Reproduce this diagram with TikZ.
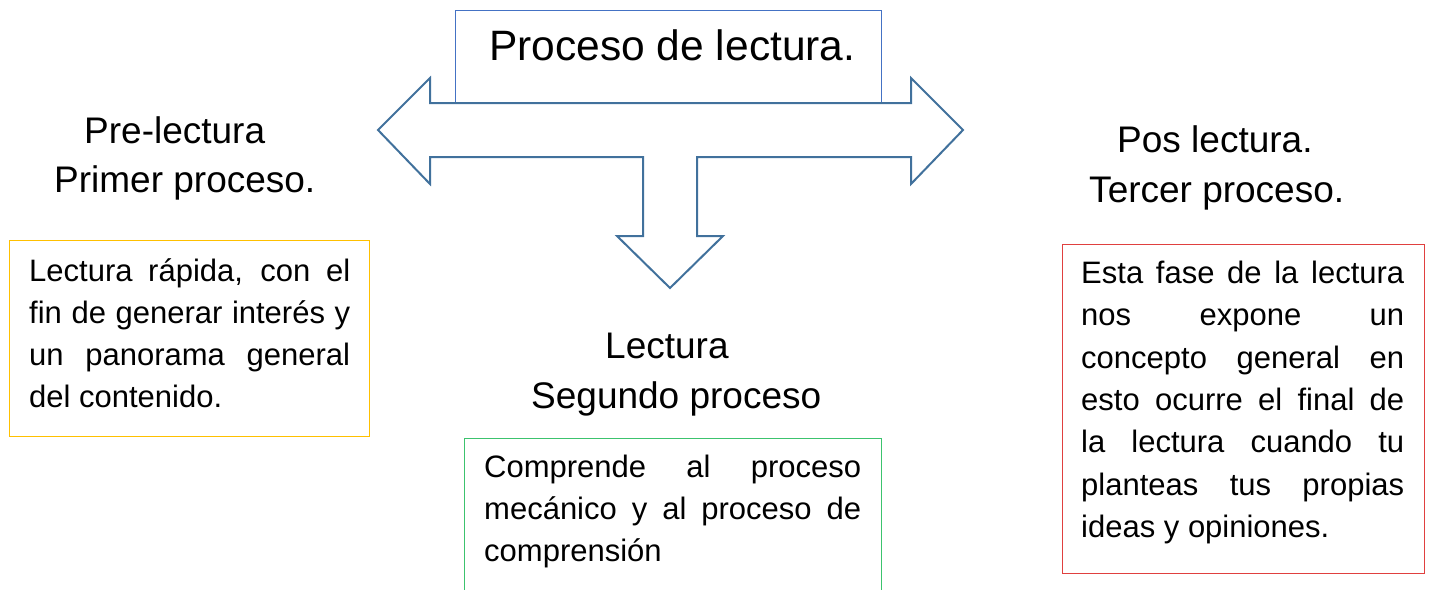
\documentclass[tikz,border=0pt]{standalone}
\usepackage{fontspec}
\setmainfont{Liberation Sans}
\definecolor{arrowblue}{HTML}{41719C}
\definecolor{boxblue}{HTML}{4472C4}
\definecolor{boxyellow}{HTML}{FFC000}
\definecolor{boxgreen}{HTML}{3CC36E}
\definecolor{boxred}{HTML}{E0403F}
\newcommand\mybodysetup{\hyphenpenalty=10000\relax\exhyphenpenalty=10000\relax\hbadness=10000\relax\tolerance=10000\relax}
\tikzset{
  frame/.style={draw, line width=1.3pt, inner sep=0pt, anchor=north west, fill=none},
  heading/.style={anchor=base west, inner sep=0pt, font=\fontsize{37}{44}\selectfont},
  body/.style={anchor=base west, inner sep=0pt, align=justify,
    font={\fontsize{31}{42.3}\selectfont\mybodysetup}},
  arrowline/.style={draw=arrowblue, line width=2pt, line join=miter}
}
\begin{document}
\begin{tikzpicture}[x=1pt,y=-1pt]
\useasboundingbox (0,0) rectangle (1431,589);
% top box
\node[frame, draw=boxblue, minimum width=426pt, minimum height=93pt] (topbox) at (455,10) {};
\node[anchor=base west, inner sep=0pt, font=\fontsize{42.5}{50}\selectfont] (title) at (489,60) {Proceso de lectura.};
% three-way arrow
\draw[arrowline] (378,130) -- (430,78) -- (430,103) -- (911,103) -- (911,78) -- (963,130)
  -- (911,184) -- (911,157) -- (697,157) -- (697,236) -- (723,236) -- (670,288)
  -- (617,236) -- (643,236) -- (643,157) -- (430,157) -- (430,184) -- cycle;
% headings
\node[heading] (pre1) at (84,143) {Pre-lectura};
\node[heading] (pre2) at (54,192) {Primer proceso.};
\node[heading] (pos1) at (1117,152) {Pos lectura.};
\node[heading] (pos2) at (1089,202) {Tercer proceso.};
\node[heading] (lec1) at (605,358) {Lectura};
\node[heading] (lec2) at (531,408) {Segundo proceso};
% boxes
\node[frame, draw=boxyellow, minimum width=360pt, minimum height=196pt] (ybox) at (9,240) {};
\node[frame, draw=boxred, minimum width=362pt, minimum height=329pt] (rbox) at (1062,244) {};
\node[frame, draw=boxgreen, minimum width=417pt, minimum height=170pt] (gbox) at (464,438) {};
% box texts
\node[body, text width=321pt] (ytext) at (29,281) {Lectura rápida, con el\linebreak fin de generar interés y\linebreak un panorama general\linebreak del contenido.};
\node[body, text width=323pt] (rtext) at (1081,283.5) {Esta fase de la lectura\linebreak nos expone un\linebreak concepto general en\linebreak esto ocurre el final de\linebreak la lectura cuando tu\linebreak planteas tus propias\linebreak ideas y opiniones.};
\node[body, text width=377pt] (gtext) at (484,477) {Comprende al proceso\linebreak mecánico y al proceso de\linebreak comprensión};
\end{tikzpicture}
\end{document}
